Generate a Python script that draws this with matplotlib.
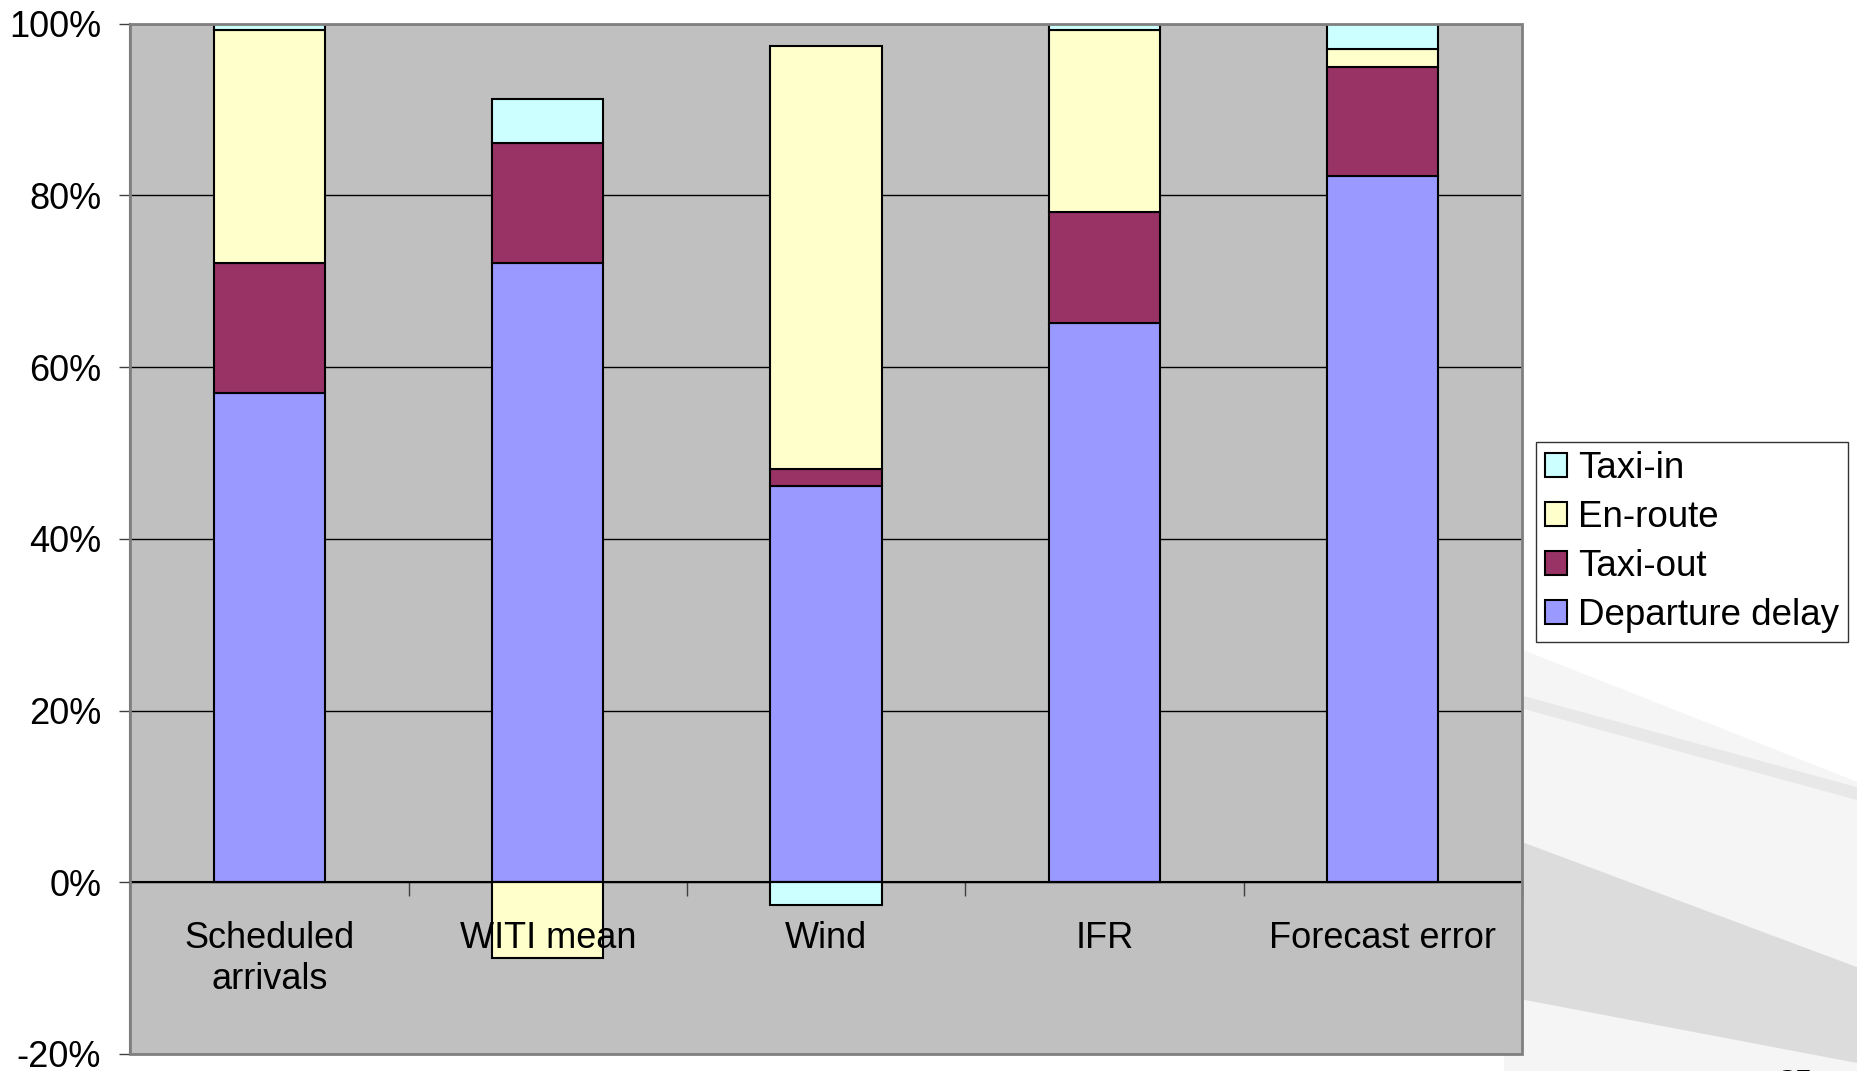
import matplotlib.pyplot as plt
from matplotlib.patches import Polygon, Rectangle

plt.rcParams['font.family'] = ['Liberation Sans', 'DejaVu Sans']

categories = ['Scheduled\narrivals', 'WITI mean', 'Wind', 'IFR', 'Forecast error']
departure_delay = [57.0, 72.1, 46.2, 65.1, 82.3]
taxi_out = [15.1, 14.0, 1.9, 13.0, 12.6]
en_route = [27.2, -8.8, 49.3, 21.2, 2.1]
taxi_in = [0.7, 5.1, -2.6, 0.7, 3.0]
y_ticks = [-20, 0, 20, 40, 60, 80, 100]

series = [
    ('Departure delay', departure_delay, '#9999ff'),
    ('Taxi-out', taxi_out, '#993366'),
    ('En-route', en_route, '#ffffcc'),
    ('Taxi-in', taxi_in, '#ccffff'),
]

fig = plt.figure(figsize=(18.57, 10.71), dpi=100)
fig.patch.set_facecolor('white')

# soft grey slide backdrop in the lower right
backdrop = [
    ([(0.81, 0.40), (1.0, 0.27), (1.0, 0.0), (0.81, 0.0)], '#f5f5f5'),
    ([(0.81, 0.355), (1.0, 0.265), (1.0, 0.253), (0.81, 0.343)], '#e8e8e8'),
    ([(0.81, 0.22), (1.0, 0.097), (1.0, 0.0075), (0.81, 0.07)], '#dcdcdc'),
]
for pts, shade in backdrop:
    fig.patches.append(Polygon(pts, closed=True, transform=fig.transFigure,
                               facecolor=shade, edgecolor='none', zorder=-2))

ax = fig.add_axes([0.0702, 0.0159, 0.7493, 0.962])
ax.set_facecolor('#c0c0c0')

x = list(range(len(categories)))
pos_base = [0.0] * len(x)
neg_base = [0.0] * len(x)
handles = {}
for name, vals, color in series:
    bottoms = []
    for i, v in enumerate(vals):
        if v >= 0:
            bottoms.append(pos_base[i])
            pos_base[i] += v
        else:
            bottoms.append(neg_base[i])
            neg_base[i] += v
    handles[name] = ax.bar(x, vals, width=0.4, bottom=bottoms, color=color,
                           edgecolor='black', linewidth=1.5, zorder=3, label=name)

ax.set_xlim(-0.5, len(x) - 0.5)
ax.set_ylim(-20, 100)
ax.set_yticks(y_ticks)
ax.set_yticklabels([f'{t}%' for t in y_ticks], fontsize=26)
ax.tick_params(axis='y', direction='out', length=8, width=1, color='#404040', pad=13)
ax.yaxis.grid(True, color='black', linewidth=1, zorder=1)
ax.set_axisbelow(True)

# category axis sits on the zero line
ax.spines['bottom'].set_position(('data', 0))
ax.spines['bottom'].set_color('black')
ax.spines['bottom'].set_linewidth(1.5)
ax.spines['bottom'].set_zorder(4)
ax.set_xticks([i + 0.5 for i in x])
ax.set_xticklabels([])
ax.tick_params(axis='x', direction='out', length=10, width=1, color='#404040')
for side in ['top', 'right']:
    ax.spines[side].set_visible(False)
ax.spines['left'].set_color('#555555')
ax.spines['left'].set_linewidth(1.5)
ax.add_patch(Rectangle((0, 0), 1, 1, transform=ax.transAxes, fill=False,
                       edgecolor='#808080', linewidth=2, zorder=5, clip_on=False))

for i, label in enumerate(categories):
    ax.text(i, -4.5, label, ha='center', va='top', fontsize=26,
            linespacing=1.24, zorder=6)

order = ['Taxi-in', 'En-route', 'Taxi-out', 'Departure delay']
leg = fig.legend([handles[n] for n in order], order, loc='upper left',
                 bbox_to_anchor=(0.827, 0.5876), fontsize=26.5, frameon=True,
                 fancybox=False, shadow=False, handlelength=0.6,
                 handleheight=0.6, handletextpad=0.3, labelspacing=0.38,
                 borderpad=0.25, borderaxespad=0)
leg.get_frame().set_edgecolor('black')
leg.get_frame().set_linewidth(1)

fig.text(0.967, -0.012, '27', fontsize=22, family='Liberation Serif',
         ha='center', va='center')

fig.savefig('out.png', dpi=100, facecolor=fig.get_facecolor())
